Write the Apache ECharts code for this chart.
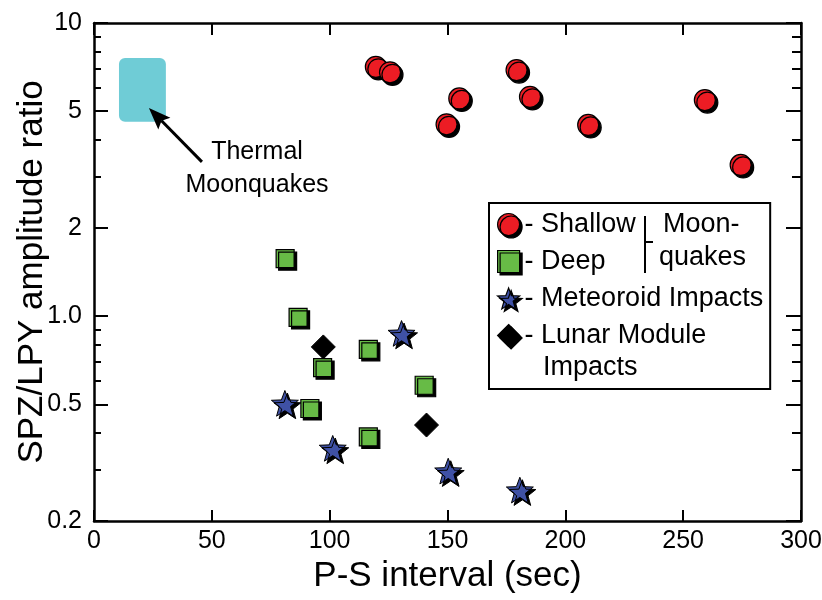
<!DOCTYPE html>
<html>
<head>
<meta charset="utf-8">
<script src="https://cdn.jsdelivr.net/npm/echarts@6/dist/echarts.min.js"></script>
<style>
  html, body { margin: 0; padding: 0; background: #fff; }
  #chart { width: 822px; height: 600px; }
</style>
</head>
<body>
<div id="chart"></div>
<script>
// P-S interval (sec) vs SPZ/LPY amplitude ratio
const shallow = [[119.6, 7.09], [125.6, 6.79], [155.0, 5.53], [149.6, 4.51], [179.3, 6.91],
                 [185.0, 5.60], [209.7, 4.49], [259.2, 5.46], [274.4, 3.28]];
const deep = [[81.1, 1.57], [86.6, 0.99], [97.0, 0.667], [116.4, 0.77], [91.6, 0.484],
              [140.1, 0.581], [116.4, 0.387]];
const meteoroid = [[130.5, 0.873], [81.0, 0.504], [101.3, 0.354], [150.3, 0.296], [180.7, 0.255]];
const lunarModule = [[97.3, 0.785], [141.1, 0.425]];

// thermal moonquake region: [xMin, yMin, xMax, yMax]
const thermalRegion = [[10.6, 4.6, 30.5, 7.6]];
// pointer: [tailX, tailY, tipX, tipY]
const thermalArrow = [[45.8, 3.36, 23.3, 5.13]];

const xMin = 0, xMax = 300, xStep = 50;
const yMin = 0.2, yMax = 10;
const yMajorTicks = [0.2, 0.5, 1, 2, 5, 10];
const yMinorTicks = [0.3, 0.4, 0.6, 0.7, 0.8, 0.9, 3, 4, 6, 7, 8, 9];

const FONT = 'Liberation Sans, Arial, Helvetica, sans-serif';
const STAR = 'path://M50,0L62.3,33.1L97.6,34.5L69.9,56.5L79.4,90.5L50,71L20.6,90.5L30.1,56.5L2.4,34.5L37.7,33.1Z';

const shadowStyle = { shadowColor: '#000', shadowOffsetX: 2.5, shadowOffsetY: 2.5, shadowBlur: 0 };

function yLabel(v) {
  const r = Math.round(v * 10) / 10;
  return r === 1 ? '1.0' : String(r);
}

function yAxisDef(position, ticks, len, withLine, withLabels) {
  return {
    type: 'log', logBase: 10, min: yMin, max: yMax, position: position,
    axisLine: { show: withLine, onZero: false, lineStyle: { color: '#000', width: 2.5 } },
    axisTick: { show: true, inside: true, length: len, customValues: ticks,
                lineStyle: { color: '#000', width: 2 } },
    axisLabel: withLabels ? {
      show: true, customValues: yMajorTicks, formatter: yLabel, margin: 12,
      color: '#000', fontSize: 25, fontFamily: FONT
    } : { show: false },
    splitLine: { show: false },
    minorTick: { show: false }
  };
}

const chart = echarts.init(document.getElementById('chart'), null, { renderer: 'canvas' });

chart.setOption({
  animation: false,
  backgroundColor: '#fff',
  grid: { left: 94, right: 21, top: 23, bottom: 79, containLabel: false, outerBoundsMode: 'none' },
  xAxis: [
    {
      type: 'value', min: xMin, max: xMax, interval: xStep, position: 'bottom',
      name: 'P-S interval (sec)', nameLocation: 'middle', nameGap: 37,
      nameTextStyle: { color: '#000', fontSize: 35, fontFamily: FONT },
      axisLine: { show: true, onZero: false, lineStyle: { color: '#000', width: 2.5 } },
      axisTick: { show: true, inside: true, length: 11, lineStyle: { color: '#000', width: 2 } },
      axisLabel: { show: true, margin: 8, color: '#000', fontSize: 25, fontFamily: FONT },
      splitLine: { show: false }
    },
    {
      type: 'value', min: xMin, max: xMax, interval: xStep, position: 'top',
      axisLine: { show: true, onZero: false, lineStyle: { color: '#000', width: 2.5 } },
      axisTick: { show: true, inside: true, length: 12, lineStyle: { color: '#000', width: 2 } },
      axisLabel: { show: false },
      splitLine: { show: false }
    }
  ],
  yAxis: [
    Object.assign(yAxisDef('left', yMajorTicks, 14, true, true), {
      name: 'SPZ/LPY amplitude ratio', nameLocation: 'middle', nameGap: 44, nameMoveOverlap: false,
      nameTextStyle: { color: '#000', fontSize: 35, fontFamily: FONT }
    }),
    yAxisDef('left', yMinorTicks, 7, false, false),
    yAxisDef('right', yMajorTicks, 15, true, false),
    yAxisDef('right', yMinorTicks, 9, false, false)
  ],
  legend: {
    orient: 'vertical', left: 489, top: 203, z: 10,
    data: ['Shallow', 'Deep', 'Meteoroid Impacts', 'Lunar Module Impacts'],
    formatter: function (n) { return n === 'Lunar Module Impacts' ? '- Lunar Module' : '- ' + n; },
    itemWidth: 22, itemHeight: 22, itemGap: 10, itemTextGap: 10,
    padding: [8, 7, 40, 8],
    borderColor: '#000', borderWidth: 2, borderRadius: 0,
    backgroundColor: '#fff',
    selectedMode: false,
    textStyle: { color: '#000', fontSize: 27, fontFamily: FONT },
    itemStyle: Object.assign({ borderColor: '#000', borderWidth: 1.2 }, shadowStyle)
  },
  graphic: [
    { type: 'text', z: 100, left: 543, top: 354, style: { text: 'Impacts', fill: '#000', font: '27px ' + FONT } },
    { type: 'line', z: 100, shape: { x1: 645, y1: 216, x2: 645, y2: 273 }, style: { stroke: '#000', lineWidth: 2 } },
    { type: 'line', z: 100, shape: { x1: 645, y1: 242, x2: 653, y2: 242 }, style: { stroke: '#000', lineWidth: 2 } },
    { type: 'text', z: 100, left: 663, top: 211, style: { text: 'Moon-', fill: '#000', font: '27px ' + FONT } },
    { type: 'text', z: 100, left: 659, top: 244, style: { text: 'quakes', fill: '#000', font: '27px ' + FONT } },
    { type: 'text', z: 100, x: 257, y: 152, style: { text: 'Thermal', fill: '#000', font: '25px ' + FONT,
      textAlign: 'center', textVerticalAlign: 'middle' } },
    { type: 'text', z: 100, x: 257, y: 185, style: { text: 'Moonquakes', fill: '#000', font: '25px ' + FONT,
      textAlign: 'center', textVerticalAlign: 'middle' } }
  ],
  series: [
    {
      type: 'custom', name: 'thermal', silent: true, z: 1,
      xAxisIndex: 0, yAxisIndex: 0,
      encode: { x: [0, 2], y: [1, 3] },
      data: thermalRegion,
      renderItem: function (params, api) {
        const p0 = api.coord([api.value(0), api.value(3)]);
        const p1 = api.coord([api.value(2), api.value(1)]);
        return {
          type: 'rect',
          shape: { x: p0[0], y: p0[1], width: p1[0] - p0[0], height: p1[1] - p0[1], r: 6 },
          style: { fill: '#6FCCD6' }
        };
      }
    },
    {
      type: 'custom', name: 'pointer', silent: true, z: 2,
      xAxisIndex: 0, yAxisIndex: 0,
      encode: { x: [0, 2], y: [1, 3] },
      data: thermalArrow,
      renderItem: function (params, api) {
        const a = api.coord([api.value(0), api.value(1)]);
        const b = api.coord([api.value(2), api.value(3)]);
        const dx = b[0] - a[0], dy = b[1] - a[1];
        const L = Math.hypot(dx, dy), ux = dx / L, uy = dy / L;
        const head = 22, half = 8.5, notch = 4;
        const bx = b[0] - ux * head, by = b[1] - uy * head;
        return {
          type: 'group',
          children: [
            { type: 'line', shape: { x1: a[0], y1: a[1], x2: bx + ux * notch, y2: by + uy * notch },
              style: { stroke: '#000', lineWidth: 3 } },
            { type: 'polygon', shape: { points: [
                [b[0], b[1]],
                [bx - uy * half, by + ux * half],
                [bx + ux * notch, by + uy * notch],
                [bx + uy * half, by - ux * half]
              ] }, style: { fill: '#000' } }
          ]
        };
      }
    },
    {
      type: 'scatter', name: 'Shallow', data: shallow, z: 5,
      symbol: 'circle', symbolSize: 21,
      itemStyle: Object.assign({ color: '#EC1C24', borderColor: '#000', borderWidth: 1.2, opacity: 1 }, shadowStyle)
    },
    {
      type: 'scatter', name: 'Deep', data: deep, z: 5,
      symbol: 'rect', symbolSize: 18,
      itemStyle: Object.assign({ color: '#67BB46', borderColor: '#000', borderWidth: 1.2, opacity: 1 }, shadowStyle)
    },
    {
      type: 'scatter', name: 'Meteoroid Impacts', data: meteoroid, z: 5,
      symbol: STAR, symbolSize: 27, symbolKeepAspect: true,
      itemStyle: Object.assign({ color: '#3F51A5', borderColor: '#000', borderWidth: 1, opacity: 1 }, shadowStyle)
    },
    {
      type: 'scatter', name: 'Lunar Module Impacts', data: lunarModule, z: 5,
      symbol: 'diamond', symbolSize: 24,
      itemStyle: { color: '#000', borderColor: '#000', borderWidth: 1, opacity: 1 }
    }
  ]
});
</script>
</body>
</html>
